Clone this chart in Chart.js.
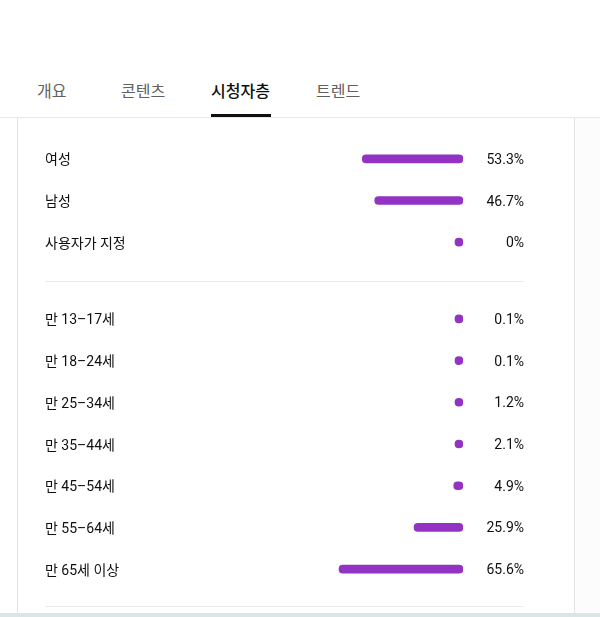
<!DOCTYPE html>
<html>
<head>
<meta charset="utf-8">
<script src="https://cdn.jsdelivr.net/npm/chart.js@4.4.1/dist/chart.umd.min.js"></script>
<style>
  html, body { margin: 0; padding: 0; background: #fff; }
  body { width: 600px; height: 617px; position: relative; overflow: hidden;
         font-family: Roboto, "Noto Sans CJK KR", sans-serif; }
  .tab { position: absolute; top: 80px; font-size: 16px; color: #606060; line-height: 24px; }
  .tab.on { color: #0f0f0f; font-weight: 500; }
  .underline { position: absolute; left: 211px; top: 114px; width: 60px; height: 3px; background: #0f0f0f; }
  .hline { position: absolute; left: 0; top: 117px; width: 600px; height: 1px; background: #e8e8e8; }
  .vline { position: absolute; top: 118px; width: 1px; height: 495px; background: #e4e4e4; }
  .divider { position: absolute; left: 45px; width: 479px; height: 1px; background: #eaeaea; }
  .bottom { position: absolute; left: 0; top: 613px; width: 600px; height: 4px; background: #dde4e8; }
  .side { position: absolute; left: 575px; top: 118px; width: 25px; height: 495px; background: #fcfcfc; }
  canvas { position: absolute; }
</style>
</head>
<body>
<div class="tab" style="left:37px">개요</div>
<div class="tab" style="left:121px">콘텐츠</div>
<div class="tab on" style="left:211px">시청자층</div>
<div class="tab" style="left:316px">트렌드</div>
<div class="underline"></div>
<div class="hline"></div>
<div class="vline" style="left:17px"></div>
<div class="vline" style="left:574px"></div>
<div class="side"></div>
<div class="divider" style="top:281px"></div>
<div class="divider" style="top:606px"></div>
<div class="bottom"></div>

<div style="position:absolute;left:45px;top:138px;width:479px;height:125px"><canvas id="genderChart"></canvas></div>
<div style="position:absolute;left:45px;top:298px;width:479px;height:292px"><canvas id="ageChart"></canvas></div>

<script>
const genderLabels = ['여성', '남성', '사용자가 지정'];
const genderValues = [53.3, 46.7, 0];
const ageLabels = ['만 13–17세', '만 18–24세', '만 25–34세', '만 35–44세', '만 45–54세', '만 55–64세', '만 65세 이상'];
const ageValues = [0.1, 0.1, 1.2, 2.1, 4.9, 25.9, 65.6];

const barColor = '#9333c3';
const textFont = { family: 'Roboto, "Noto Sans CJK KR", sans-serif', size: 14 };

// draws the percentage text at the right end of each row
const percentPlugin = {
    id: 'percentLabels',
    afterDatasetsDraw(chart) {
        const ctx = chart.ctx;
        const meta = chart.getDatasetMeta(0);
        ctx.save();
        ctx.font = '14px Roboto, "Noto Sans CJK KR", sans-serif';
        ctx.fillStyle = '#0f0f0f';
        ctx.textAlign = 'right';
        ctx.textBaseline = 'middle';
        meta.data.forEach((bar, i) => {
            const v = chart.data.datasets[0].data[i];
            ctx.fillText(v + '%', chart.width, bar.y + 1.5);
        });
        ctx.restore();
    }
};

function makeChart(id, labels, values) {
    const ctx = document.getElementById(id).getContext('2d');
    return new Chart(ctx, {
        type: 'bar',
        data: {
            labels: labels,
            datasets: [{
                data: values,
                backgroundColor: barColor,
                barThickness: 8,
                borderRadius: 4,
                borderSkipped: false,
                minBarLength: 8,
                base: -0.0001   // so a 0 value still gets a dot growing left
            }]
        },
        options: {
            indexAxis: 'y',
            responsive: true,
            maintainAspectRatio: false,
            animation: false,
            layout: { padding: { right: 61, top: 0, bottom: 0 } },
            plugins: { legend: { display: false }, tooltip: { enabled: false } },
            scales: {
                x: {
                    min: 0, max: 100, reverse: true,
                    display: false
                },
                y: {
                    grid: { display: false },
                    border: { display: false },
                    ticks: {
                        color: '#0f0f0f',
                        font: textFont,
                        crossAlign: 'far',
                        padding: 0,
                        labelOffset: 2
                    },
                    afterFit(axis) {
                        axis.width = 229;
                        axis.paddingTop = 0;
                        axis.paddingBottom = 0;
                    }
                }
            }
        },
        plugins: [percentPlugin]
    });
}

const genderChart = makeChart('genderChart', genderLabels, genderValues);
const ageChart = makeChart('ageChart', ageLabels, ageValues);
</script>
</body>
</html>
